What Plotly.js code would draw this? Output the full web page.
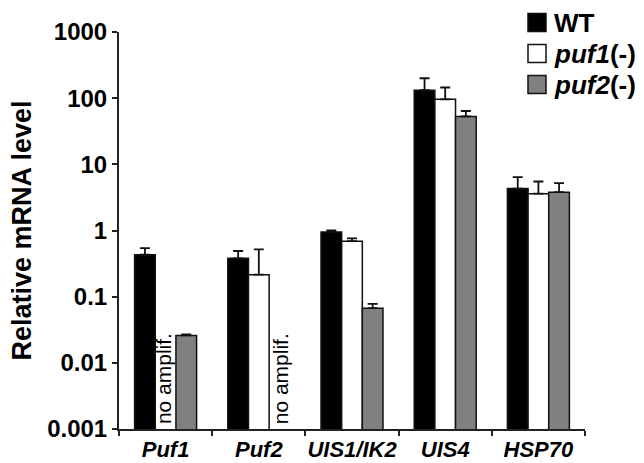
<!DOCTYPE html>
<html>
<head>
<meta charset="utf-8">
<script src="https://cdn.plot.ly/plotly-3.0.1.min.js"></script>
<style>html,body{margin:0;padding:0;background:#fff;}#chart{width:644px;height:463px;}</style>
</head>
<body>
<div id="chart"></div>
<script>
// ---- data ----
const genes = ['Puf1', 'Puf2', 'UIS1/IK2', 'UIS4', 'HSP70'];
const seriesNames = ['WT', 'puf1(-)', 'puf2(-)'];
const legendLabels = ['<b>WT</b>', '<b><i>puf1</i>(-)</b>', '<b><i>puf2</i>(-)</b>'];
const wtValues   = [0.43, 0.38, 0.95, 132, 4.3];
const puf1Values = [null, 0.215, 0.69, 96, 3.6];
const puf2Values = [0.026, null, 0.067, 53, 3.8];
const wtErr   = [0.11, 0.11, 0.05, 68, 2.1];
const puf1Err = [0, 0.305, 0.07, 49, 1.9];
const puf2Err = [0.001, 0, 0.011, 11, 1.4];
const noAmpGenes = ['Puf1', 'Puf2'];
const yTickVals = [0.001, 0.01, 0.1, 1, 10, 100, 1000];
const yTickText = ['0.001', '0.01', '0.1', '1', '10', '100', '1000'];

// ---- layout geometry ----
const W = 644, H = 463;
const M = {l: 119, r: 59, t: 32, b: 34};
const pw = W - M.l - M.r, ph = H - M.t - M.b;
const px2x = p => (p - M.l) / pw;
const px2y = p => (H - M.b - p) / ph;

const colors = ['#000000', '#ffffff', '#808080'];
const valueSets = [wtValues, puf1Values, puf2Values];
const errSets = [wtErr, puf1Err, puf2Err];

const traces = valueSets.map((vals, i) => ({
  type: 'bar',
  name: seriesNames[i],
  x: genes,
  y: vals,
  marker: {color: colors[i], line: {color: '#111', width: 1.5}},
  error_y: {type: 'data', symmetric: false, array: errSets[i],
            arrayminus: errSets[i].map(() => 0),
            color: '#111', thickness: 1.8, width: 5},
  showlegend: false,
  hoverinfo: 'skip'
}));

const annotations = [];
// "no amplif." labels
const noAmpShift = {'Puf1': -2, 'Puf2': 22};
noAmpGenes.forEach(g => {
  annotations.push({
    x: g, xref: 'x', y: 0, yref: 'paper', yanchor: 'bottom', xanchor: 'center',
    xshift: noAmpShift[g], yshift: 3,
    text: 'no amplif.', textangle: -90, showarrow: false,
    font: {family: 'Liberation Sans, Arial, sans-serif', size: 21, color: '#000'}
  });
});

// manual legend
const shapes = [];
const rowY = [22.5, 53.5, 84.5];
legendLabels.forEach((lab, i) => {
  shapes.push({
    type: 'rect', xref: 'paper', yref: 'paper',
    x0: px2x(528), x1: px2x(546), y0: px2y(rowY[i] + 9), y1: px2y(rowY[i] - 9),
    fillcolor: colors[i], line: {color: '#111', width: 1.5}
  });
  annotations.push({
    xref: 'paper', yref: 'paper', x: px2x(552), y: px2y(rowY[i]),
    xanchor: 'left', yanchor: 'middle', showarrow: false, text: lab,
    font: {family: 'Liberation Sans, Arial, sans-serif', size: 26, color: '#000'}
  });
});

const layout = {
  width: W, height: H,
  margin: M,
  paper_bgcolor: '#fff', plot_bgcolor: '#fff',
  barmode: 'group', bargap: 0.335, bargroupgap: 0,
  font: {family: 'Liberation Sans, Arial, sans-serif', color: '#000'},
  xaxis: {
    type: 'category',
    tickvals: genes,
    ticktext: genes.map(g => '<b><i>' + g + '</i></b>'),
    tickangle: 0,
    tickson: 'boundaries',
    ticks: 'outside', ticklen: 5, tickwidth: 2, tickcolor: '#222',
    showline: true, linecolor: '#222', linewidth: 2,
    showgrid: false, zeroline: false,
    tickfont: {size: 22, color: '#000'}
  },
  yaxis: {
    type: 'log', range: [-3, 3],
    tickvals: yTickVals, ticktext: yTickText.map(t => '<b>' + t + '</b>'),
    ticks: 'outside', ticklen: 5, tickwidth: 2, tickcolor: '#222',
    showline: true, linecolor: '#222', linewidth: 2,
    showgrid: false, zeroline: false,
    tickfont: {size: 24, color: '#000'},
    title: {text: '<b>Relative mRNA level</b>', font: {size: 27, color: '#000'}, standoff: 8}
  },
  annotations: annotations,
  shapes: shapes,
  showlegend: false
};

Plotly.newPlot('chart', traces, layout, {staticPlot: true, displayModeBar: false});
</script>
</body>
</html>
